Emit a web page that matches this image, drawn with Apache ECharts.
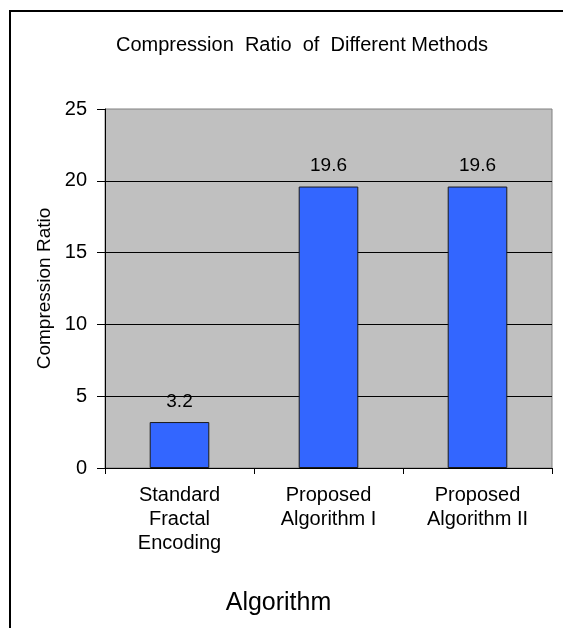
<!DOCTYPE html>
<html>
<head>
<meta charset="utf-8">
<script src="https://cdn.jsdelivr.net/npm/echarts@6/dist/echarts.min.js"></script>
<style>
html,body{margin:0;padding:0;background:#fff;}
#chart{width:563px;height:628px;}
</style>
</head>
<body>
<div id="chart"></div>
<script>
var categories = ['Standard\nFractal\nEncoding', 'Proposed\nAlgorithm I', 'Proposed\nAlgorithm II'];
var ratios = [3.2, 19.6, 19.6];
var yTicks = [0, 5, 10, 15, 20, 25];

var FONT = "'Liberation Sans', Arial, sans-serif";
var chart = echarts.init(document.getElementById('chart'), null, {renderer: 'canvas'});
chart.setOption({
  backgroundColor: '#ffffff',
  animation: false,
  title: {
    text: 'Compression  Ratio  of  Different Methods',
    left: 297, top: 30, textAlign: 'center',
    textStyle: {fontFamily: FONT, fontSize: 20, fontWeight: 'normal', color: '#000'}
  },
  graphic: [{
    type: 'polyline',
    shape: {points: [[10, 628], [10, 11], [563, 11]]},
    style: {stroke: '#000', lineWidth: 2, fill: null}
  }],
  grid: {
    left: 105, right: 11, top: 109, bottom: 160,
    show: true, backgroundColor: '#C0C0C0', borderColor: '#808080', borderWidth: 1
  },
  xAxis: {
    type: 'category',
    data: categories,
    name: 'Algorithm',
    nameLocation: 'middle',
    nameGap: 123,
    nameTextStyle: {fontFamily: FONT, fontSize: 25, color: '#000', padding: [0, 100, 0, 0]},
    axisLine: {lineStyle: {color: '#000', width: 1}},
    axisTick: {show: true, length: 6, lineStyle: {color: '#000'}},
    axisLabel: {fontFamily: FONT, fontSize: 20, color: '#000', lineHeight: 24, margin: 15, interval: 0}
  },
  yAxis: {
    type: 'value',
    min: 0, max: 25, interval: 5,
    name: 'Compression Ratio',
    nameLocation: 'middle',
    nameGap: 51,
    nameRotate: 90,
    nameTextStyle: {fontFamily: FONT, fontSize: 19, color: '#000'},
    axisLine: {show: true, lineStyle: {color: '#000', width: 1}},
    axisTick: {show: true, length: 8, lineStyle: {color: '#000'}},
    axisLabel: {fontFamily: FONT, fontSize: 20, color: '#000', margin: 18,
      formatter: function (v) { return yTicks.indexOf(v) >= 0 ? String(v) : ''; }},
    splitLine: {show: true, showMinLine: false, showMaxLine: false, lineStyle: {color: '#000', width: 1}}
  },
  series: [{
    type: 'bar',
    data: ratios,
    barWidth: '40%',
    itemStyle: {color: '#3366FF', borderColor: '#1a1a1a', borderWidth: 1},
    label: {show: true, position: 'top', distance: 11, fontFamily: FONT, fontSize: 19, color: '#000',
      formatter: function (p) { return p.value.toFixed(1); }}
  }]
});
</script>
</body>
</html>
